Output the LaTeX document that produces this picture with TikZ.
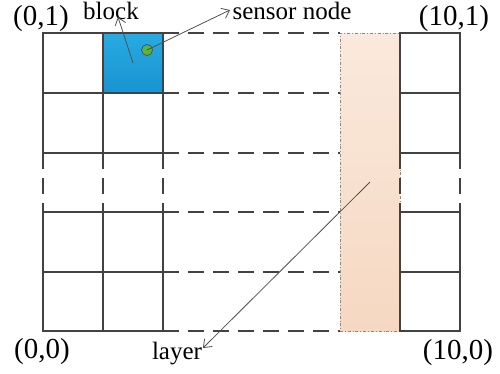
\documentclass[tikz,border=0pt]{standalone}
\usepackage{fontspec}
\setmainfont{Liberation Serif}
\usetikzlibrary{arrows.meta}
\definecolor{gridline}{RGB}{66,66,66}
\definecolor{blocktop}{RGB}{40,170,226}
\definecolor{blockbot}{RGB}{24,148,208}
\definecolor{layertop}{RGB}{250,233,220}
\definecolor{layerbot}{RGB}{246,216,194}
\definecolor{layeredge}{RGB}{150,135,125}
\definecolor{dotfill}{RGB}{88,182,62}
\definecolor{pointerline}{RGB}{80,80,80}
\begin{document}
\begin{tikzpicture}[x=1pt,y=-1pt,
  gridsolid/.style={draw=gridline, line width=2pt},
  griddash/.style={gridsolid, dash pattern=on 16pt off 9pt},
  pointer/.style={draw=pointerline, line width=0.8pt,
    -{Straight Barb[length=7pt,width=11pt,line width=0.8pt]}},
  coordlabel/.style={font=\fontsize{29}{30}\selectfont, inner sep=0pt, anchor=base},
  tag/.style={font=\fontsize{25}{26}\selectfont, inner sep=0pt, anchor=base}]
\useasboundingbox (0,0) rectangle (500,373);

% shaded cells: the block and the layer column
\node[minimum width=60pt, minimum height=60pt, inner sep=0pt,
  top color=blocktop, bottom color=blockbot] (blockcell) at (133,63) {};
\node[minimum width=60pt, minimum height=298pt, inner sep=0pt,
  top color=layertop, bottom color=layerbot,
  draw=layeredge, line width=0.7pt, dash dot] (layer) at (370,182) {};

% horizontal grid lines
\foreach \y in {33,93,153,212,272,331} {
  \draw[gridsolid] (43,\y) -- (163,\y);
  \draw[griddash] (163,\y) -- (340,\y);
  \draw[gridsolid] (400,\y) -- (460,\y);
}
% vertical grid lines, broken in the middle row
\foreach \x in {43,103,163,400,460} {
  \draw[gridsolid] (\x,32) -- (\x,153);
  \draw[griddash] (\x,153) -- (\x,212);
  \draw[gridsolid] (\x,212) -- (\x,332);
}

% sensor node inside the block
\node[circle, minimum size=11pt, inner sep=0pt, fill=dotfill,
  draw=black!70, line width=0.7pt] (sensor) at (147,50) {};

% labels
\node[coordlabel] (c01) at (41,25) {(0,1)};
\node[coordlabel] (c101) at (454,25) {(10,1)};
\node[coordlabel] (c00) at (42,358) {(0,0)};
\node[coordlabel] (c100) at (458,359) {(10,0)};
\node[tag] (blocklbl) at (111,19) {block};
\node[tag] (sensorlbl) at (292,19) {sensor node};
\node[tag] (layerlbl) at (177,359) {layer};

% pointer tips beside the labels
\coordinate (blocktip) at (118,17);
\coordinate (sensortip) at (230,10);
\coordinate (layertip) at (203,348);

\draw[pointer] (blockcell.center) -- (blocktip);
\draw[pointer] (sensor.center) -- (sensortip);
\draw[pointer] (layer.center) -- (layertip);
\end{tikzpicture}
\end{document}
